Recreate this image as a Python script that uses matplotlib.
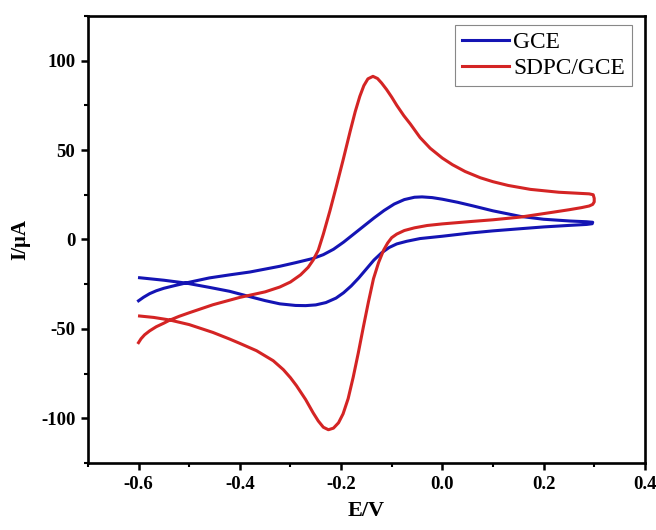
import matplotlib
matplotlib.use("Agg")
import matplotlib.pyplot as plt
from matplotlib.ticker import MultipleLocator

# values (E in V, I in uA)
# GCE: anodic sweep -0.6 -> 0.3, then cathodic sweep back to -0.6
gce_E = [-0.600, -0.590, -0.578, -0.565, -0.550, -0.530, -0.506, -0.460, -0.420, -0.380,
         -0.321, -0.290, -0.255, -0.235, -0.215, -0.195, -0.175, -0.155, -0.135, -0.115,
         -0.095, -0.075, -0.055, -0.040, -0.020, 0.000, 0.030, 0.060, 0.100, 0.154,
         0.200, 0.253, 0.285, 0.297,
         0.296, 0.285, 0.253, 0.200, 0.154, 0.100, 0.055, 0.000, -0.044, -0.070,
         -0.090, -0.105, -0.120, -0.135, -0.150, -0.165, -0.180, -0.195, -0.210, -0.230,
         -0.250, -0.270, -0.290, -0.321, -0.350, -0.380, -0.420, -0.460, -0.506, -0.550,
         -0.598]
gce_I = [-34.3, -32.3, -30.3, -28.7, -27.3, -25.9, -24.3, -21.5, -19.8, -18.2,
         -15.0, -13.0, -10.6, -8.5, -5.5, -1.5, 3.0, 7.5, 12.0, 16.2,
         19.8, 22.3, 23.6, 23.8, 23.4, 22.5, 20.8, 18.8, 16.0, 12.9,
         11.3, 10.3, 9.9, 9.6,
         8.8, 8.4, 7.9, 7.0, 6.0, 4.8, 3.6, 1.8, 0.5, -1.0,
         -2.5, -4.5, -7.5, -11.5, -16.5, -21.5, -26.0, -29.8, -32.8, -35.3,
         -36.6, -37.0, -36.9, -36.0, -34.2, -32.0, -29.0, -26.8, -24.4, -22.8,
         -21.4]

# SDPC/GCE
sdpc_E = [-0.600, -0.595, -0.588, -0.578, -0.565, -0.550, -0.539, -0.520, -0.500, -0.453,
          -0.400, -0.350, -0.321, -0.300, -0.280, -0.265, -0.255, -0.245, -0.235, -0.222,
          -0.209, -0.196, -0.182, -0.172, -0.163, -0.155, -0.147, -0.137, -0.128, -0.120,
          -0.110, -0.100, -0.090, -0.076, -0.063, -0.044, -0.024, 0.000, 0.020, 0.045,
          0.075, 0.100, 0.130, 0.174, 0.230, 0.270, 0.290, 0.298, 0.300, 0.300,
          0.297, 0.290, 0.275, 0.250, 0.220, 0.180, 0.154, 0.100, 0.055, 0.000,
          -0.030, -0.055, -0.075, -0.090, -0.100, -0.108, -0.116, -0.126, -0.136, -0.146,
          -0.156, -0.166, -0.176, -0.186, -0.196, -0.205, -0.215, -0.225, -0.235, -0.245,
          -0.255, -0.270, -0.288, -0.300, -0.314, -0.334, -0.367, -0.400, -0.420, -0.453,
          -0.500, -0.539, -0.570, -0.598]
sdpc_I = [-57.7, -55.5, -53.3, -51.1, -48.8, -46.8, -45.2, -43.0, -41.0, -36.5,
          -32.4, -29.3, -26.6, -23.8, -19.8, -15.6, -11.5, -6.0, 3.0, 16.0,
          30.0, 44.4, 60.5, 71.5, 80.0, 86.0, 89.8, 91.2, 90.0, 87.5,
          83.8, 79.6, 75.0, 69.2, 64.5, 57.0, 51.0, 45.5, 41.8, 38.0,
          34.5, 32.3, 30.2, 28.0, 26.4, 25.8, 25.5, 25.0, 23.0, 21.0,
          19.6, 18.7, 17.8, 16.6, 15.3, 13.6, 12.5, 11.0, 10.0, 8.7,
          7.8, 6.5, 5.0, 3.0, 1.0, -2.0, -6.0, -13.0, -22.0, -35.0,
          -49.0, -63.5, -77.0, -89.0, -97.5, -102.5, -105.5, -106.4, -105.0, -101.5,
          -97.0, -89.5, -81.8, -77.3, -72.8, -67.8, -62.2, -58.1, -55.7, -52.0,
          -47.6, -45.0, -43.6, -42.8]

labels = ["GCE", "SDPC/GCE"]
colors = ["#1414b4", "#d42424"]

plt.rcParams["font.family"] = ["Liberation Serif", "DejaVu Serif"]

fig = plt.figure(figsize=(6.56, 5.30), dpi=100)
ax = fig.add_axes([0.134, 0.1264, 0.849, 0.8436])

ax.plot(gce_E, gce_I, color=colors[0], lw=2.2, label=labels[0])
ax.plot(sdpc_E, sdpc_I, color=colors[1], lw=2.2, label=labels[1])

ax.set_xlim(-0.7, 0.4)
ax.set_ylim(-125, 125)
ax.xaxis.set_minor_locator(MultipleLocator(0.1))
ax.yaxis.set_minor_locator(MultipleLocator(25))
ax.set_xticks([-0.6, -0.4, -0.2, 0.0, 0.2, 0.4])
ax.set_xticklabels(["-0.6", "-0.4", "-0.2", "0.0", "0.2", "0.4"])
ax.set_yticks([-100, -50, 0, 50, 100])
ax.set_yticklabels(["-100", "-50", "0", "50", "100"])

for sp in ax.spines.values():
    sp.set_linewidth(1.9)
ax.tick_params(which="major", direction="out", length=5, width=1.8,
               labelsize=13.5, pad=4, top=False, right=False)
ax.tick_params(which="minor", direction="out", length=3, width=1.5,
               top=False, right=False)
for lab in ax.get_xticklabels() + ax.get_yticklabels():
    lab.set_fontweight("bold")

ax.set_xlabel("E/V", fontsize=16, fontweight="bold", labelpad=6)
ax.set_ylabel("I/\u03bcA", fontsize=15, fontweight="bold", labelpad=8)

leg = ax.legend(loc="upper right", bbox_to_anchor=(0.977, 0.980), borderaxespad=0,
                fontsize=16.8, frameon=True, fancybox=False, framealpha=1,
                edgecolor="#888888", handlelength=2.0, handletextpad=0.2,
                labelspacing=0.2, borderpad=0.3)
leg.get_frame().set_linewidth(0.8)

fig.savefig("out.png", dpi=100)
